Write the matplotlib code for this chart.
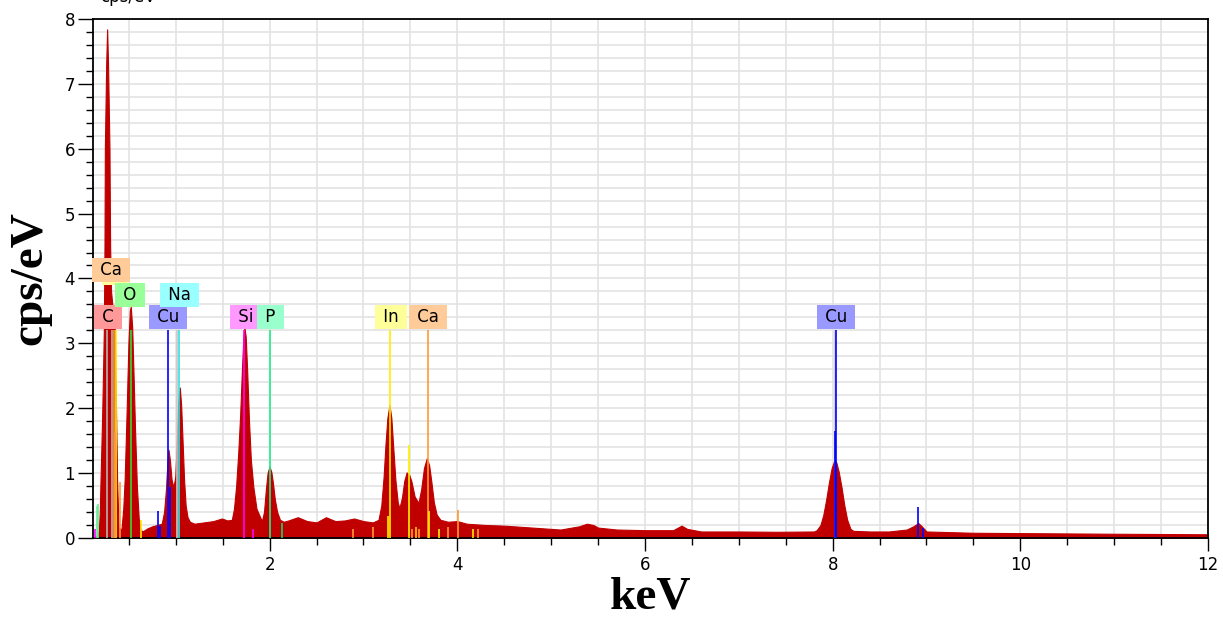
import numpy as np
import matplotlib
matplotlib.use('Agg')
import matplotlib.pyplot as plt
from matplotlib.ticker import MultipleLocator

# spectrum (keV, cps/eV)
energy_kev = [
    0.12, 0.16, 0.18, 0.19, 0.197, 0.205, 0.215, 0.225, 0.233, 0.24, 0.244,
    0.258, 0.268, 0.278, 0.293, 0.30, 0.31, 0.33, 0.35, 0.364, 0.375, 0.39,
    0.42, 0.44, 0.455, 0.475, 0.495, 0.51, 0.52, 0.535, 0.55, 0.565, 0.585,
    0.605, 0.625, 0.645,
    0.70, 0.75, 0.80, 0.85, 0.875, 0.895, 0.91, 0.922, 0.937, 0.955, 0.975,
    0.995, 1.012, 1.027, 1.042, 1.057, 1.072, 1.088, 1.105, 1.125, 1.15,
    1.2, 1.3, 1.4, 1.49, 1.55,
    1.597, 1.62, 1.643, 1.665, 1.686, 1.705, 1.72, 1.732, 1.745, 1.76, 1.78,
    1.80, 1.827, 1.86, 1.917,
    1.94, 1.96, 1.978, 1.998, 2.018, 2.035, 2.055, 2.08, 2.11,
    2.15, 2.2, 2.3, 2.4, 2.5, 2.6, 2.7, 2.8, 2.9, 3.0, 3.1,
    3.16, 3.19, 3.215, 3.235, 3.255, 3.277, 3.297, 3.315, 3.34, 3.365, 3.383,
    3.41, 3.435, 3.46, 3.485, 3.51, 3.545, 3.586, 3.615, 3.645, 3.675, 3.70,
    3.725, 3.75, 3.78, 3.82,
    3.9, 4.0, 4.1, 4.3, 4.5, 4.8, 5.0, 5.1, 5.3, 5.38, 5.45, 5.5, 5.7, 6.0,
    6.3, 6.39, 6.45, 6.6, 7.0, 7.4, 7.8,
    7.83, 7.87, 7.9, 7.93, 7.96, 7.99, 8.02, 8.04, 8.065, 8.095, 8.125, 8.155,
    8.19, 8.22,
    8.4, 8.6, 8.79, 8.86, 8.913, 8.95, 9.0, 9.5, 10.0, 11.0, 12.0,
]
counts = [
    0.0, 0.03, 0.12, 0.4, 0.85, 1.3, 1.87, 2.6, 3.2, 4.5, 6.0,
    7.3, 7.84, 7.3, 6.0, 4.5, 3.8, 3.5, 3.2, 1.87, 0.85, 0.17,
    0.12, 0.45, 0.9, 1.9, 3.0, 3.5, 3.57, 3.25, 2.5, 1.7, 0.8,
    0.3, 0.13, 0.1,
    0.15, 0.18, 0.2, 0.22, 0.4, 0.75, 1.15, 1.36, 1.2, 0.9, 0.78,
    0.95, 1.55, 2.1, 2.32, 2.05, 1.5, 0.9, 0.5, 0.32, 0.25,
    0.22, 0.24, 0.26, 0.3, 0.27,
    0.28, 0.45, 0.8, 1.3, 1.9, 2.6, 3.1, 3.24, 3.1, 2.6, 1.8,
    1.2, 0.78, 0.45, 0.26,
    0.4, 0.75, 1.0, 1.10, 1.02, 0.85, 0.6, 0.4, 0.28,
    0.25, 0.27, 0.32, 0.26, 0.24, 0.32, 0.26, 0.27, 0.3, 0.26, 0.24,
    0.28, 0.5, 0.95, 1.45, 1.85, 2.05, 1.85, 1.45, 0.9, 0.55, 0.46,
    0.62, 0.88, 1.01, 0.98, 0.88, 0.64, 0.54, 0.75, 1.08, 1.23, 1.12,
    0.85, 0.55, 0.36, 0.28,
    0.25, 0.26, 0.22, 0.2, 0.19, 0.16, 0.14, 0.13, 0.18, 0.22, 0.2, 0.16, 0.13, 0.12,
    0.12, 0.19, 0.14, 0.1, 0.1, 0.095, 0.1,
    0.12, 0.2, 0.35, 0.58, 0.85, 1.08, 1.2, 1.16, 1.02, 0.78, 0.5, 0.28,
    0.14, 0.11,
    0.1, 0.1, 0.13, 0.18, 0.23, 0.18, 0.1, 0.08, 0.075, 0.065, 0.057,
]

# element marker lines (keV, height, colour)
line_kev = [0.268, 0.322, 0.345, 0.366, 0.52, 0.92, 1.01, 1.036, 1.728, 2.0,
            3.284, 3.685, 8.03, 8.04]
line_top = [3.2, 3.2, 3.2, 3.2, 3.2, 3.2, 3.2, 3.2, 3.2, 3.2,
            3.2, 3.2, 3.2, 3.2]
line_col = ['#b4b4b4', '#b4b4b4', '#ff9933', '#ffee00', '#33dd33', '#0000ff',
            '#c8c8c8', '#33e0e0', '#ff00ff', '#22ee88',
            '#ffee00', '#ff9933', '#c8c8c8', '#0000ff']

minor_kev = [0.137, 0.165, 0.176, 0.35, 0.41, 0.634, 0.805, 0.83, 0.936,
             1.827, 2.137, 2.89, 3.106, 3.266, 3.48, 3.52, 3.56, 3.596,
             3.703, 3.81, 3.905, 4.01, 4.165, 4.22, 8.026, 8.905, 8.966]
minor_top = [0.14, 0.5, 0.52, 1.64, 0.86, 0.27, 0.41, 0.18, 0.79,
             0.14, 0.23, 0.14, 0.17, 0.34, 1.43, 0.14, 0.17, 0.14,
             0.42, 0.14, 0.17, 0.43, 0.14, 0.14, 1.65, 0.48, 0.15]
minor_col = ['#ff00ff', '#66ee99', '#66ee99', '#ff9933', '#ff9933', '#ffee00',
             '#0000ff', '#0000ff', '#0000ff', '#ff00ff', '#22cc66', '#ff9933',
             '#ff9933', '#ffee00', '#ffee00', '#ff9933', '#ffcc00', '#ff9933',
             '#ffee00', '#ffee00', '#ff9933', '#ff9933', '#ffee00', '#ff9933',
             '#0000ff', '#0000ff', '#0000ff']

# element labels (the first one is the yellow box hidden behind "Ca")
label_names = ['  ', 'Ca', 'C', 'O', 'Cu', 'Na', 'Si', 'P', 'In', 'Ca', 'Cu']
label_kev = [0.354, 0.308, 0.279, 0.514, 0.918, 1.036, 1.746, 2.009,
             3.289, 3.687, 8.035]
label_y = [4.08, 4.13, 3.41, 3.74, 3.41, 3.74, 3.41, 3.41, 3.41, 3.41, 3.41]
label_fc = ['#ffff99', '#ffcc99', '#ff9999', '#99ff99', '#9999ff', '#99ffff',
            '#ff99ff', '#99ffcc', '#ffff99', '#ffcc99', '#9999ff']

fig = plt.figure(figsize=(12.23, 6.18), dpi=100)
ax = fig.add_axes([0.0760, 0.1295, 0.9117, 0.8398])

ax.fill_between(energy_kev, counts, color='#c00000', lw=0.8, zorder=2)
ax.vlines(line_kev, 0, line_top, colors=line_col, lw=1.2, zorder=3)
ax.vlines(minor_kev, 0, minor_top, colors=minor_col, lw=1.2, zorder=3)

for i, name in enumerate(label_names):
    ax.text(label_kev[i], label_y[i], ' ' + name + ' ', ha='center', va='center',
            fontsize=12, color='black', zorder=5 + i,
            bbox=dict(boxstyle='square,pad=0.18', fc=label_fc[i], ec='none'))

ax.set_xlim(0.117, 12)
ax.set_ylim(0, 8)
ax.xaxis.set_major_locator(MultipleLocator(2))
ax.xaxis.set_minor_locator(MultipleLocator(0.5))
ax.yaxis.set_major_locator(MultipleLocator(1))
ax.yaxis.set_minor_locator(MultipleLocator(0.2))
ax.grid(which='both', color='#e3e3e3', lw=1.2)
ax.set_axisbelow(True)

ax.tick_params(axis='x', which='major', length=9, width=1, labelsize=12, pad=4)
ax.tick_params(axis='x', which='minor', length=5, width=1)
ax.tick_params(axis='y', which='major', length=11, width=1, labelsize=12, pad=2)
ax.tick_params(axis='y', which='minor', length=5, width=1)
for s in ax.spines.values():
    s.set_linewidth(1.3)

ax.set_xlabel('keV', fontsize=34, fontweight='bold', family='Liberation Serif',
              labelpad=2)
ax.set_ylabel('cps/eV', fontsize=34, fontweight='bold', family='Liberation Serif',
              labelpad=9)
fig.text(0.082, 0.9965, 'cps/eV', fontsize=12, va='baseline')

fig.savefig('out.png', dpi=100)
